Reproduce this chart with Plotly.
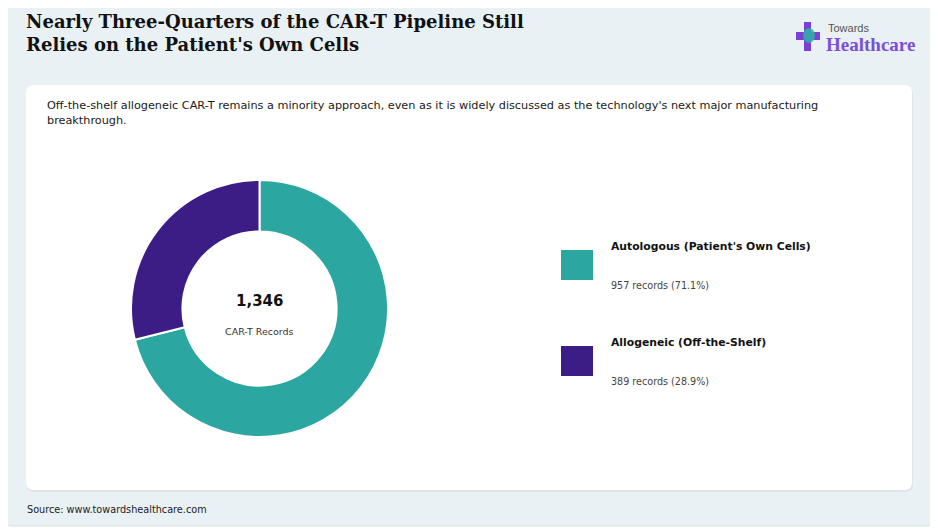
import plotly.graph_objects as go

labels = ["Autologous (Patient's Own Cells)", "Allogeneic (Off-the-Shelf)"]
records = [957, 389]
colors = ["#2ba6a0", "#3b1d85"]

total = sum(records)
shares = [r / total * 100 for r in records]

W, H = 938, 531
# the page puts the plot 8px in from the corner, so shift everything back
OFF = 8


def px_x(x):
    return (x - OFF) / W


def px_y(y):
    return 1 - (y - OFF) / H


def rounded_rect(x0, y0, x1, y1, r):
    # path in paper coords built from pixel box
    X0, X1 = px_x(x0), px_x(x1)
    Y0, Y1 = px_y(y0), px_y(y1)
    rx, ry = r / W, r / H
    return (f"M {X0 + rx},{Y0} L {X1 - rx},{Y0} Q {X1},{Y0} {X1},{Y0 - ry} "
            f"L {X1},{Y1 + ry} Q {X1},{Y1} {X1 - rx},{Y1} "
            f"L {X0 + rx},{Y1} Q {X0},{Y1} {X0},{Y1 + ry} "
            f"L {X0},{Y0 - ry} Q {X0},{Y0} {X0 + rx},{Y0} Z")


fig = go.Figure()
fig.add_trace(go.Pie(
    labels=labels, values=records, hole=0.6, sort=False, direction="clockwise",
    rotation=0, marker=dict(colors=colors, line=dict(color="white", width=2)),
    textinfo="none", hoverinfo="label+value+percent", showlegend=False,
    domain=dict(x=[px_x(131), px_x(388)], y=[px_y(437), px_y(180)]),
))

shapes = [
    # outer frame
    dict(type="path", xref="paper", yref="paper", path=rounded_rect(4, 7, 934, 526, 8),
         fillcolor="#e9f1f4", line=dict(color="#d3dde2", width=1), layer="below"),
    # card shadow + card
    dict(type="path", xref="paper", yref="paper", path=rounded_rect(26, 87, 913, 492, 8),
         fillcolor="#dde5e9", line=dict(width=0), layer="below"),
    dict(type="path", xref="paper", yref="paper", path=rounded_rect(26, 85, 912, 490, 8),
         fillcolor="white", line=dict(width=0), layer="below"),
]

annotations = [
    dict(text="<b>Nearly Three-Quarters of the CAR-T Pipeline Still<br>Relies on the Patient's Own Cells</b>",
         x=px_x(24), y=px_y(9), xanchor="left", yanchor="top", align="left",
         font=dict(family="DejaVu Serif", size=18, color="#111111")),
    dict(text="Off-the-shelf allogeneic CAR-T remains a minority approach, even as it is widely discussed as the technology's next major manufacturing<br>breakthrough.",
         x=px_x(45), y=px_y(97), xanchor="left", yanchor="top", align="left",
         font=dict(family="DejaVu Sans", size=11.25, color="#1a1a1a")),
    dict(text="<b>" + f"{total:,}" + "</b>", x=px_x(259.5), y=px_y(301), xanchor="center", yanchor="middle",
         font=dict(family="DejaVu Sans", size=15, color="#111111")),
    dict(text="CAR-T Records", x=px_x(259.5), y=px_y(331), xanchor="center", yanchor="middle",
         font=dict(family="DejaVu Sans", size=9.5, color="#333333")),
    dict(text="Source: www.towardshealthcare.com", x=px_x(25), y=px_y(509), xanchor="left", yanchor="middle",
         font=dict(family="DejaVu Sans", size=9.7, color="#222222")),
]

# custom legend
leg_y = [265, 361]
for lab, rec, sh, col, yc in zip(labels, records, shares, colors, leg_y):
    shapes.append(dict(type="rect", xref="paper", yref="paper",
                       x0=px_x(561), x1=px_x(593), y0=px_y(yc - 15), y1=px_y(yc + 15),
                       fillcolor=col, line=dict(width=0)))
    annotations.append(dict(text=f"<b>{lab}</b>", x=px_x(609), y=px_y(yc - 19),
                            xanchor="left", yanchor="middle",
                            font=dict(family="DejaVu Sans", size=10.8, color="#111111")))
    annotations.append(dict(text=f"{rec} records ({sh:.1f}%)", x=px_x(609), y=px_y(yc + 20),
                            xanchor="left", yanchor="middle",
                            font=dict(family="DejaVu Sans", size=9.6, color="#444444")))

# logo
shapes += [
    dict(type="rect", xref="paper", yref="paper", x0=px_x(804), x1=px_x(811), y0=px_y(51), y1=px_y(22),
         fillcolor="#7b3fd6", line=dict(width=0)),
    dict(type="rect", xref="paper", yref="paper", x0=px_x(796), x1=px_x(820), y0=px_y(40), y1=px_y(32),
         fillcolor="#7b3fd6", line=dict(width=0)),
    dict(type="circle", xref="paper", yref="paper", x0=px_x(803), x1=px_x(815), y0=px_y(43), y1=px_y(28),
         fillcolor="#2bb3a6", line=dict(width=0), opacity=0.85),
]
annotations += [
    dict(text="Towards", x=px_x(826), y=px_y(28), xanchor="left", yanchor="middle",
         font=dict(family="Liberation Sans", size=11, color="#555555")),
    dict(text="<b>Healthcare</b>", x=px_x(824), y=px_y(44), xanchor="left", yanchor="middle",
         font=dict(family="Liberation Serif", size=19, color="#7b4fd6")),
]
for a in annotations:
    a.setdefault("showarrow", False)
    a["xref"] = "paper"
    a["yref"] = "paper"

fig.update_layout(
    width=W, height=H, margin=dict(l=0, r=0, t=0, b=0),
    paper_bgcolor="white", plot_bgcolor="white",
    shapes=shapes, annotations=annotations,
)
fig.write_html("out.html")
